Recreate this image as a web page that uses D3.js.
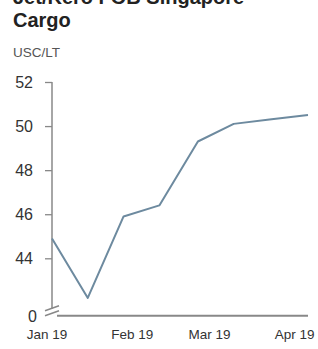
<!DOCTYPE html>
<html>
<head>
<meta charset="utf-8">
<script src="https://cdn.jsdelivr.net/npm/d3@7"></script>
<style>
  body { margin: 0; background: #fff; }
  svg { display: block; font-family: "Liberation Sans", Arial, sans-serif; }
</style>
</head>
<body>
<svg id="chart"></svg>
<script>
const W = 318, H = 349;
const margin = {top: 82, right: 10, bottom: 32, left: 52};

// data
const dates = ["2019-01-03", "2019-01-16", "2019-01-29", "2019-02-11",
               "2019-02-25", "2019-03-10", "2019-03-23", "2019-04-06"];
const prices = [44.9, 42.2, 45.9, 46.4, 49.3, 50.1, 50.3, 50.5];
const monthTicks = ["2019-01-01", "2019-02-01", "2019-03-01", "2019-04-01"];
const monthLabels = ["Jan 19", "Feb 19", "Mar 19", "Apr 19"];
const yTicks = [44, 46, 48, 50, 52];
const yBase = 41.35; // bottom of broken axis, shown as "0"

const parse = d3.utcParse("%Y-%m-%d");
const data = dates.map((d, i) => ({date: parse(d), value: prices[i]}));

const svg = d3.select("#chart").attr("width", W).attr("height", H);

// title (first line cut off at top, as in the source)
svg.append("text").attr("x", 13).attr("y", 4)
  .attr("font-size", "20px").attr("font-weight", "bold").attr("fill", "#222")
  .text("Jet/Kero FOB Singapore");
svg.append("text").attr("x", 13).attr("y", 27)
  .attr("font-size", "20px").attr("font-weight", "bold").attr("fill", "#222")
  .text("Cargo");
svg.append("text").attr("x", 13).attr("y", 57)
  .attr("font-size", "13.5px").attr("fill", "#555")
  .text("USC/LT");

const x = d3.scaleUtc()
  .domain(d3.extent(data, d => d.date))
  .range([margin.left, W - margin.right]);

const y = d3.scaleLinear()
  .domain([yBase, 52])
  .range([H - margin.bottom - 0.3, margin.top]);

// y axis
const yAxis = svg.append("g")
  .attr("transform", `translate(${margin.left},0)`)
  .call(d3.axisLeft(y)
    .tickValues([yBase].concat(yTicks))
    .tickFormat(d => d === yBase ? "0" : d)
    .tickSize(7).tickPadding(12));
yAxis.select(".domain").remove();
yAxis.selectAll("text").attr("font-size", "16px").attr("fill", "#333")
  .attr("font-family", "Liberation Sans, Arial, sans-serif");
yAxis.selectAll("line").attr("stroke", "#888").attr("stroke-width", 1.3);
yAxis.selectAll(".tick").filter(d => d === yBase).select("line").remove();
yAxis.selectAll(".tick").filter(d => d === yBase).select("text").attr("dx", 4);

// y axis line stopping at the break
svg.append("line")
  .attr("x1", margin.left).attr("x2", margin.left)
  .attr("y1", y(52)).attr("y2", y(yBase) - 8)
  .attr("stroke", "#888").attr("stroke-width", 1.5);

// x axis
const xAxis = svg.append("g")
  .attr("transform", `translate(0,${y(yBase)})`)
  .call(d3.axisBottom(x)
    .tickValues(monthTicks.map(parse))
    .tickFormat((d, i) => monthLabels[i])
    .tickSize(0).tickPadding(13));
xAxis.select(".domain").remove();
xAxis.selectAll("text").attr("font-size", "13.5px").attr("fill", "#333")
  .attr("font-family", "Liberation Sans, Arial, sans-serif");

svg.append("line")
  .attr("x1", margin.left + 5).attr("x2", W - margin.right)
  .attr("y1", y(yBase) - 1).attr("y2", y(yBase) - 1)
  .attr("stroke", "#888").attr("stroke-width", 2);

// axis break marks
const by = y(yBase);
[-9, -4].forEach(off => {
  svg.append("line")
    .attr("x1", margin.left - 7).attr("y1", by + off + 3)
    .attr("x2", margin.left + 7).attr("y2", by + off - 2)
    .attr("stroke", "#888").attr("stroke-width", 1.5);
});

// line
const line = d3.line()
  .x(d => x(d.date))
  .y(d => y(d.value));

svg.append("path")
  .datum(data)
  .attr("d", line)
  .attr("fill", "none")
  .attr("stroke", "#6d8a9f")
  .attr("stroke-width", 2)
  .attr("stroke-linejoin", "round");
</script>
</body>
</html>
